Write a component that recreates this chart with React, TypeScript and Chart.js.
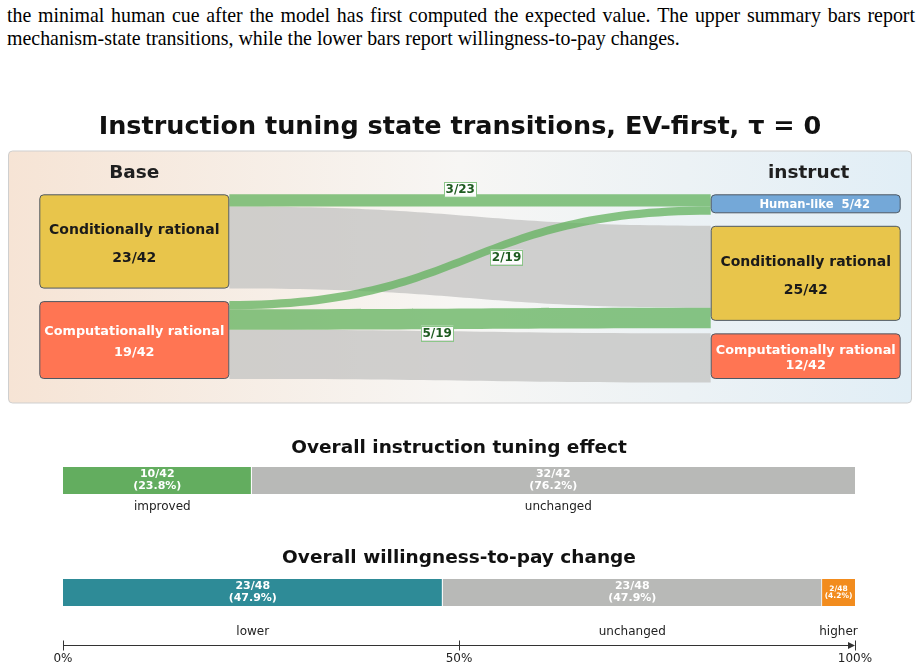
import React, { useEffect, useRef } from 'react';
import { Chart, registerables } from 'chart.js';
Chart.register(...registerables);

// ---------------- data ----------------
const stageNames = ['Base', 'instruct'];
const baseStates = ['Conditionally rational', 'Computationally rational'];
const baseCounts = [23, 19];
const instructStates = ['Human-like', 'Conditionally rational', 'Computationally rational'];
const instructCounts = [5, 25, 12];
const totalModels = 42;
// flows: base state index -> instruct state index
const flowFrom = [0, 0, 1, 1, 1];
const flowTo = [0, 1, 0, 1, 2];
const flowCounts = [3, 20, 2, 5, 12];
const flowImproved = [true, false, true, true, false];

const tuningCategories = ['improved', 'unchanged'];
const tuningCounts = [10, 32];
const tuningTotal = 42;

const wtpCategories = ['lower', 'unchanged', 'higher'];
const wtpCounts = [23, 23, 2];
const wtpTotal = 48;

const axisTickValues = [0, 50, 100];

const captionLine1 = 'the minimal human cue after the model has first computed the expected value. The upper summary bars report';
const captionLine2 = 'mechanism-state transitions, while the lower bars report willingness-to-pay changes.';
const mainTitle = 'Instruction tuning state transitions, EV-first, \u03c4 = 0';
const tuningTitle = 'Overall instruction tuning effect';
const wtpTitle = 'Overall willingness-to-pay change';

// ---------------- styles ----------------
const FONT = "'DejaVu Sans', sans-serif";
const baseColors = ['#e8c54b', '#ff7553'];
const instructColors = ['#74a8d8', '#e8c54b', '#ff7553'];
const baseTextColors = ['#1a1a1a', '#ffffff'];
const instructTextColors = ['#ffffff', '#1a1a1a', '#ffffff'];
const GREEN_FLOW = 'rgba(98,178,92,0.75)';
const GRAY_FLOW = 'rgba(198,198,196,0.8)';
const NODE_W = 190;
const NODE_GAP = 12.5;
const PANEL_W = 904;
const PANEL_H = 253;
const INSET_L = 31.3;
const INSET_R = 11.3;
const INSET_T = 43.8;
const INSET_B = 24.5;
const SINGLE_LINE_SHIFT = 9;
const flowLabelPlacement: any[] = [{ s: 0.473, dy: -11 }, null, { s: 0.6, dy: 13 }, { s: 0.41, dy: 14 }, null];
const tuningColors = ['#63ad5f', '#b8b9b7'];
const wtpColors = ['#2e8b97', '#b8b9b7', '#f28c1e'];

function bez(p0: number, p1: number, p2: number, p3: number, t: number) {
  const u = 1 - t;
  return u * u * u * p0 + 3 * u * u * t * p1 + 3 * u * t * t * p2 + t * t * t * p3;
}

const sankeyPlugin = {
  id: 'sankeyDraw',
  beforeDatasetsDraw(chart: any) {
    const { ctx, chartArea: a } = chart;
    const xs = chart.scales.x;
    const ys = chart.scales.y;
    ctx.save();
    // panel background
    const grad = ctx.createLinearGradient(a.left, 0, a.right, 0);
    grad.addColorStop(0, '#f6e4d5');
    grad.addColorStop(0.5, '#f7f6f4');
    grad.addColorStop(1, '#e1eef6');
    ctx.beginPath();
    ctx.roundRect(a.left + 0.5, a.top + 0.5, a.right - a.left - 1, a.bottom - a.top - 1, 4);
    ctx.fillStyle = grad;
    ctx.fill();
    ctx.strokeStyle = '#cfcfcf';
    ctx.lineWidth = 1;
    ctx.stroke();

    const top = ys.getPixelForValue(0);
    const bottom = ys.getPixelForValue(totalModels);
    const layout = (counts: number[]) => {
      const sum = counts.reduce((s, c) => s + c, 0);
      const unit = (bottom - top - NODE_GAP * (counts.length - 1)) / sum;
      let y = top;
      const nodes = counts.map((c) => {
        const n = { y0: y, y1: y + c * unit };
        y = n.y1 + NODE_GAP;
        return n;
      });
      return { unit, nodes };
    };
    const L = layout(baseCounts);
    const R = layout(instructCounts);
    const lx0 = xs.getPixelForValue(0);
    const lx1 = lx0 + NODE_W;
    const rx1 = xs.getPixelForValue(1);
    const rx0 = rx1 - NODE_W;
    const unit = L.unit;
    const srcOff = L.nodes.map((n) => n.y0);
    const dstOff = R.nodes.map((n) => n.y0);
    const flows = flowCounts.map((c, i) => {
      const h = c * unit;
      const s0 = srcOff[flowFrom[i]];
      srcOff[flowFrom[i]] += h;
      const d0 = dstOff[flowTo[i]];
      dstOff[flowTo[i]] += h;
      return { s0, d0, h, i };
    });
    const xm = (lx1 + rx0) / 2;
    const band = (f: any) => {
      ctx.beginPath();
      ctx.moveTo(lx1, f.s0);
      ctx.bezierCurveTo(xm, f.s0, xm, f.d0, rx0, f.d0);
      ctx.lineTo(rx0, f.d0 + f.h);
      ctx.bezierCurveTo(xm, f.d0 + f.h, xm, f.s0 + f.h, lx1, f.s0 + f.h);
      ctx.closePath();
    };
    flows.filter((f) => !flowImproved[f.i]).forEach((f) => {
      band(f);
      ctx.fillStyle = GRAY_FLOW;
      ctx.fill();
    });
    flows.filter((f) => flowImproved[f.i]).forEach((f) => {
      band(f);
      ctx.fillStyle = GREEN_FLOW;
      ctx.fill();
    });

    // nodes
    const drawNode = (x0: number, n: any, color: string, tcolor: string, name: string, count: number) => {
      ctx.beginPath();
      ctx.roundRect(x0 + 0.5, n.y0 + 0.5, NODE_W - 1, n.y1 - n.y0 - 1, 4);
      ctx.fillStyle = color;
      ctx.fill();
      ctx.strokeStyle = '#4d5863';
      ctx.lineWidth = 1;
      ctx.stroke();
      const h = n.y1 - n.y0;
      const cx = x0 + NODE_W / 2;
      const cy = (n.y0 + n.y1) / 2;
      ctx.fillStyle = tcolor;
      ctx.textAlign = 'center';
      ctx.textBaseline = 'middle';
      const frac = `${count}/${totalModels}`;
      if (h < 30) {
        ctx.font = `bold 11.6px ${FONT}`;
        ctx.fillText(`${name}  ${frac}`, cx + SINGLE_LINE_SHIFT, cy + 1);
        return;
      }
      ctx.font = `bold 14px ${FONT}`;
      const w = ctx.measureText(name).width;
      const fs = Math.min(14, (14 * (NODE_W - 10)) / w);
      ctx.font = `bold ${fs}px ${FONT}`;
      const spacing = h >= 90 ? 28 : h >= 60 ? 21 : 15;
      const off = h >= 90 ? 3.4 : 2;
      ctx.fillText(name, cx, cy + off - spacing / 2);
      ctx.fillText(frac, cx, cy + off + spacing / 2);
    };
    L.nodes.forEach((n, i) => drawNode(lx0, n, baseColors[i], baseTextColors[i], baseStates[i], baseCounts[i]));
    R.nodes.forEach((n, i) => drawNode(rx0, n, instructColors[i], instructTextColors[i], instructStates[i], instructCounts[i]));

    // flow labels
    flows.forEach((f) => {
      const p = flowLabelPlacement[f.i];
      if (!flowImproved[f.i] || !p) return;
      const x = bez(lx1, xm, xm, rx0, p.s);
      const sc = f.s0 + f.h / 2;
      const dc = f.d0 + f.h / 2;
      const y = bez(sc, sc, dc, dc, p.s) + p.dy;
      const text = `${flowCounts[f.i]}/${baseCounts[flowFrom[f.i]]}`;
      ctx.font = `bold 12px ${FONT}`;
      const tw = ctx.measureText(text).width;
      const bw = tw + 3;
      const bh = 14.5;
      ctx.fillStyle = 'rgba(255,255,255,0.95)';
      ctx.fillRect(x - bw / 2, y - bh / 2, bw, bh);
      ctx.strokeStyle = '#8cc689';
      ctx.lineWidth = 1;
      ctx.strokeRect(Math.round(x - bw / 2) + 0.5, Math.round(y - bh / 2) + 0.5, Math.round(bw), Math.round(bh));
      ctx.fillStyle = '#1e5b20';
      ctx.textAlign = 'center';
      ctx.textBaseline = 'middle';
      ctx.fillText(text, x, y + 0.5);
    });

    // stage headers
    ctx.fillStyle = '#1f1f1f';
    ctx.font = `bold 18.5px ${FONT}`;
    ctx.textAlign = 'center';
    ctx.textBaseline = 'middle';
    ctx.fillText(stageNames[0], lx0 + NODE_W / 2, a.top + 23);
    ctx.fillText(stageNames[1], rx0 + NODE_W / 2 + 3, a.top + 23);
    ctx.restore();
  },
};

function makeBarPlugin(counts: number[], total: number, categories: string[], catOffset: number, catDx: number, axis: boolean) {
  return {
    id: 'barLabels',
    afterDatasetsDraw(chart: any) {
      const { ctx, chartArea: a } = chart;
      ctx.save();
      chart.data.datasets.forEach((ds: any, i: number) => {
        const el = chart.getDatasetMeta(i).data[0];
        const { x, y, base } = el.getProps(['x', 'y', 'base'], true);
        const cx = (x + base) / 2;
        const w = Math.abs(x - base);
        const small = w < 45;
        const pct = ((counts[i] / total) * 100).toFixed(1);
        ctx.fillStyle = '#ffffff';
        ctx.textAlign = 'center';
        ctx.textBaseline = 'middle';
        ctx.font = `bold ${small ? 7.5 : 11}px ${FONT}`;
        const d = small ? 3.8 : 6;
        ctx.fillText(`${counts[i]}/${total}`, cx, y - d);
        ctx.fillText(`(${pct}%)`, cx, y + d);
        // category label
        ctx.font = `12px ${FONT}`;
        ctx.fillStyle = '#222222';
        const tw = ctx.measureText(categories[i]).width;
        const lx = Math.max(a.left + tw / 2 - 3, Math.min(cx + catDx, a.right + 3 - tw / 2));
        ctx.fillText(categories[i], lx, a.bottom + catOffset);
      });
      if (axis) {
        const xs = chart.scales.x;
        const ay = Math.round(a.bottom + 39) + 0.5;
        const x0 = xs.getPixelForValue(axisTickValues[0]);
        const x1 = xs.getPixelForValue(axisTickValues[axisTickValues.length - 1]);
        ctx.strokeStyle = '#333333';
        ctx.lineWidth = 1;
        ctx.beginPath();
        ctx.moveTo(x0, ay);
        ctx.lineTo(x1 - 4, ay);
        ctx.stroke();
        axisTickValues.forEach((v) => {
          const px = Math.round(xs.getPixelForValue(v)) + 0.5;
          ctx.beginPath();
          ctx.moveTo(px, ay - 5);
          ctx.lineTo(px, ay + 5);
          ctx.stroke();
        });
        ctx.fillStyle = '#333333';
        ctx.beginPath();
        ctx.moveTo(x1, ay);
        ctx.lineTo(x1 - 7, ay - 3.5);
        ctx.lineTo(x1 - 7, ay + 3.5);
        ctx.closePath();
        ctx.fill();
      }
      ctx.restore();
    },
  };
}

function makeBarChart(canvas: HTMLCanvasElement, title: string, categories: string[], counts: number[], total: number, colors: string[], withAxis: boolean) {
  const n = categories.length;
  return new Chart(canvas, {
    type: 'bar',
    data: {
      labels: ['all'],
      datasets: categories.map((c, i) => ({
        label: c,
        data: [(counts[i] / total) * 100],
        backgroundColor: colors[i],
        borderColor: '#ffffff',
        borderWidth: { left: 0, top: 0, bottom: 0, right: i < n - 1 ? 1 : 0 },
        borderSkipped: false,
        barPercentage: 1,
        categoryPercentage: 1,
      })),
    },
    options: {
      indexAxis: 'y',
      responsive: false,
      animation: false,
      events: [],
      layout: { padding: { left: 63, right: 66, top: 0, bottom: withAxis ? 0 : 26 } },
      scales: {
        x: withAxis
          ? {
              stacked: true,
              min: 0,
              max: 100,
              afterBuildTicks: (s: any) => {
                s.ticks = axisTickValues.map((v) => ({ value: v }));
              },
              ticks: {
                callback: (v: any) => `${v}%`,
                autoSkip: false,
                maxRotation: 0,
                font: { family: FONT, size: 12 },
                color: '#222222',
                padding: 45.8,
              },
              grid: { display: false, drawTicks: false },
              border: { display: false },
              afterFit: (s: any) => {
                s.height = 64;
              },
            }
          : { stacked: true, min: 0, max: 100, display: false },
        y: { stacked: true, display: false },
      },
      plugins: {
        legend: { display: false },
        tooltip: { enabled: false },
        title: {
          display: true,
          text: title,
          color: '#111111',
          font: { family: FONT, size: 18.5, weight: 'bold' },
          padding: { top: 6.9, bottom: withAxis ? 9.9 : 7.9 },
        },
      },
    } as any,
    plugins: [makeBarPlugin(counts, total, categories, withAxis ? 26 : 12.5, withAxis ? 0 : 5, withAxis)],
  });
}

export default function App() {
  const sankeyRef = useRef<HTMLCanvasElement>(null);
  const tuneRef = useRef<HTMLCanvasElement>(null);
  const wtpRef = useRef<HTMLCanvasElement>(null);

  useEffect(() => {
    const nodeSpan = PANEL_H - INSET_T - INSET_B;
    const yu = nodeSpan / totalModels;
    const xu = PANEL_W - INSET_L - INSET_R;
    const sankey = new Chart(sankeyRef.current as HTMLCanvasElement, {
      type: 'scatter',
      data: { datasets: [{ data: [] }] },
      options: {
        responsive: false,
        animation: false,
        events: [],
        layout: { padding: { left: 8, right: 9, top: 0, bottom: 2.5 } },
        scales: {
          x: { type: 'linear', display: false, min: -INSET_L / xu, max: 1 + INSET_R / xu },
          y: { type: 'linear', display: false, reverse: true, min: -INSET_T / yu, max: totalModels + INSET_B / yu },
        },
        plugins: {
          legend: { display: false },
          tooltip: { enabled: false },
          title: {
            display: true,
            text: mainTitle,
            color: '#111111',
            font: { family: FONT, size: 25.5, weight: 'bold' },
            padding: { top: 12.5, bottom: 7.4 },
          },
        },
      } as any,
      plugins: [sankeyPlugin],
    });
    const tune = makeBarChart(tuneRef.current as HTMLCanvasElement, tuningTitle, tuningCategories, tuningCounts, tuningTotal, tuningColors, false);
    const wtp = makeBarChart(wtpRef.current as HTMLCanvasElement, wtpTitle, wtpCategories, wtpCounts, wtpTotal, wtpColors, true);
    return () => {
      sankey.destroy();
      tune.destroy();
      wtp.destroy();
    };
  }, []);

  const serif = "'Liberation Serif', 'Times New Roman', serif";
  return (
    <div style={{ position: 'fixed', left: 0, top: 0, width: 921, height: 670, background: '#ffffff', overflow: 'hidden' }}>
      <div
        style={{
          position: 'absolute', left: 7, top: 3.8, width: 908, height: 23, display: 'flex',
          justifyContent: 'space-between', fontFamily: serif, fontSize: 19.9, lineHeight: '23px', color: '#000',
        }}
      >
        {captionLine1.split(' ').map((w, i) => (
          <span key={i} style={{ whiteSpace: 'nowrap' }}>{w}</span>
        ))}
      </div>
      <div
        style={{
          position: 'absolute', left: 7, top: 26.8, width: 908, height: 23, whiteSpace: 'nowrap',
          fontFamily: serif, fontSize: 19.9, lineHeight: '23px', color: '#000',
        }}
      >
        {captionLine2}
      </div>
      <canvas ref={sankeyRef} width={921} height={306} style={{ position: 'absolute', left: 0, top: 100, display: 'block' }} />
      <canvas ref={tuneRef} width={921} height={90} style={{ position: 'absolute', left: 0, top: 430, display: 'block' }} />
      <canvas ref={wtpRef} width={921} height={130} style={{ position: 'absolute', left: 0, top: 540, display: 'block' }} />
    </div>
  );
}
